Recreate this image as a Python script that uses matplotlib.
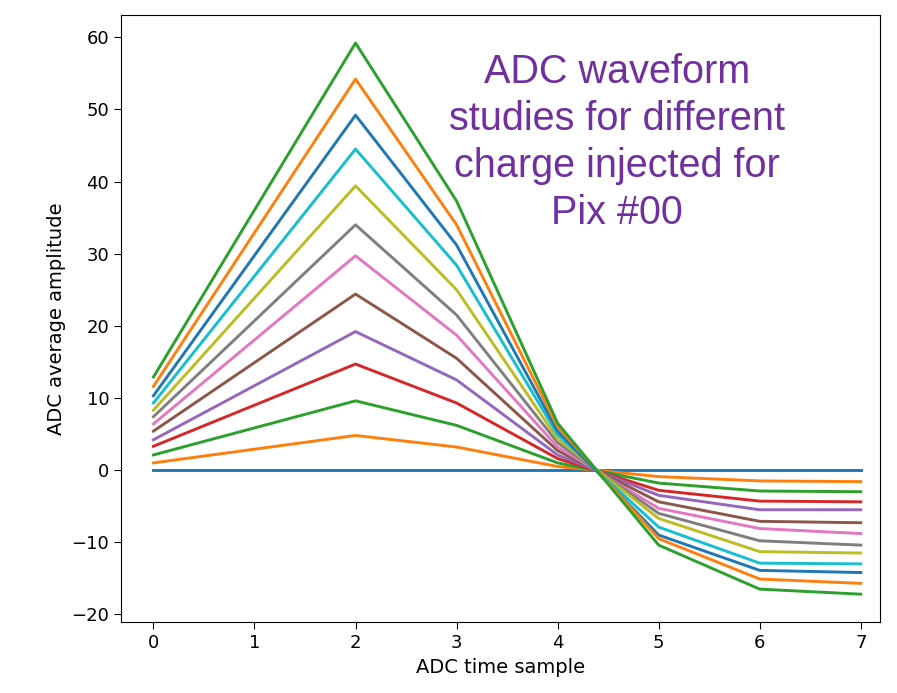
import matplotlib
matplotlib.use("Agg")
import matplotlib.pyplot as plt

samples = [0, 1, 2, 3, 4, 5, 6, 7]

# amplitude values at each ADC time sample, one list per injected charge
v0 = [0.0, 1.0, 2.1, 3.3, 4.2, 5.4, 6.4, 7.4, 8.3, 9.3, 10.3, 11.6, 12.9]
v2 = [0.0, 4.8, 9.6, 14.7, 19.2, 24.4, 29.7, 34.0, 39.4, 44.5, 49.2, 54.2, 59.2]
v3 = [0.0, 3.2, 6.2, 9.3, 12.5, 15.5, 18.7, 21.5, 25.0, 28.4, 31.2, 34.0, 37.3]
v4 = [0.0, 0.5, 1.0, 1.6, 2.1, 2.7, 3.2, 3.8, 4.3, 4.9, 5.4, 6.0, 6.5]
v5 = [0.0, -0.9, -1.8, -2.8, -3.5, -4.4, -5.3, -6.0, -6.7, -7.9, -9.0, -9.5, -10.4]
v6 = [0.0, -1.5, -2.9, -4.3, -5.5, -7.1, -8.1, -9.8, -11.3, -12.9, -13.9, -15.1, -16.5]
v7 = [0.0, -1.6, -3.0, -4.4, -5.5, -7.3, -8.8, -10.4, -11.5, -13.0, -14.2, -15.7, -17.2]
v1 = [(a + b) / 2 for a, b in zip(v0, v2)]

fig = plt.figure(figsize=(8.97, 6.93), dpi=100)
ax = fig.add_axes([0.135, 0.102, 0.846, 0.876])

for i in range(len(v0)):
    ys = [v0[i], v1[i], v2[i], v3[i], v4[i], v5[i], v6[i], v7[i]]
    ax.plot(samples, ys, lw=2.1, color=f"C{i % 10}")

ax.set_xlim(-0.32, 7.19)
ax.set_ylim(-21.1, 63.05)
ax.set_xticks(samples)
ax.set_yticks([-20, -10, 0, 10, 20, 30, 40, 50, 60])
ax.set_yticklabels(["\u221220", "\u221210", "0", "10", "20", "30", "40", "50", "60"])
ax.tick_params(labelsize=13, length=5)
ax.set_xlabel("ADC time sample", fontsize=14)
ax.set_ylabel("ADC average amplitude", fontsize=14)

ax.text(0.653, 0.937, "ADC waveform\nstudies for different\ncharge injected for\nPix #00",
        transform=ax.transAxes, ha="center", va="top", color="#7030A0",
        fontsize=28.5, family="Liberation Sans", linespacing=1.3)

fig.savefig("out.png", dpi=100)
